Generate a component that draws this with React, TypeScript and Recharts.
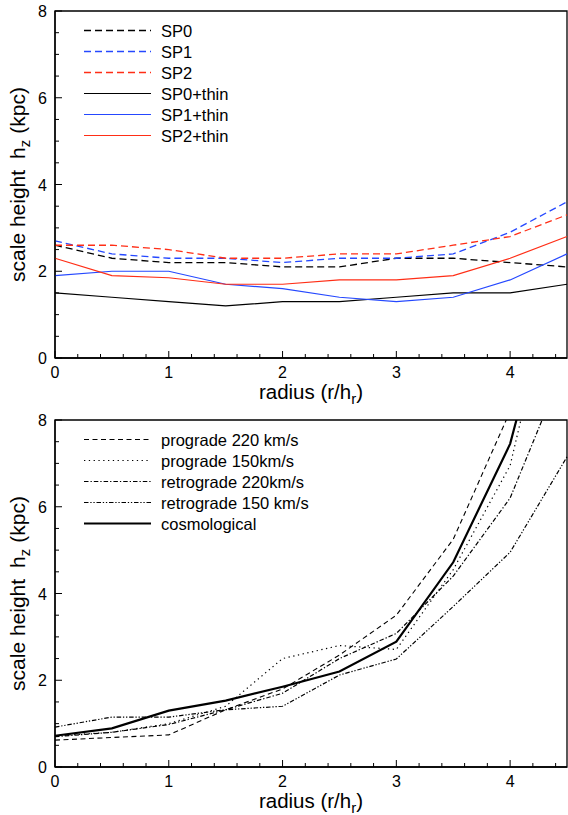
import { Label, Legend, Line, LineChart, ReferenceArea, XAxis, YAxis } from "recharts";

// radius in units of the disc scale length
const radius = [0, 0.5, 1, 1.5, 2, 2.5, 3, 3.5, 4, 4.5];

// top panel: scale height (kpc)
const sp0 = [2.6, 2.3, 2.2, 2.2, 2.1, 2.1, 2.3, 2.3, 2.2, 2.1];
const sp1 = [2.7, 2.4, 2.3, 2.3, 2.2, 2.3, 2.3, 2.4, 2.9, 3.6];
const sp2 = [2.6, 2.6, 2.5, 2.3, 2.3, 2.4, 2.4, 2.6, 2.8, 3.3];
const sp0Thin = [1.5, 1.4, 1.3, 1.2, 1.3, 1.3, 1.4, 1.5, 1.5, 1.7];
const sp1Thin = [1.9, 2.0, 2.0, 1.7, 1.6, 1.4, 1.3, 1.4, 1.8, 2.4];
const sp2Thin = [2.3, 1.9, 1.85, 1.7, 1.7, 1.8, 1.8, 1.9, 2.3, 2.8];

// bottom panel: scale height (kpc)
const pro220 = [0.62, 0.68, 0.74, 1.32, 1.8, 2.58, 3.5, 5.25, 8.2, 11];
const pro150 = [0.72, 0.8, 1.0, 1.4, 2.5, 2.8, 2.71, 4.55, 6.95, 12.5];
const retro220 = [0.7, 0.8, 0.98, 1.32, 1.7, 2.5, 3.08, 4.4, 6.2, 9.4];
const retro150 = [0.92, 1.15, 1.15, 1.32, 1.4, 2.12, 2.49, 3.7, 4.95, 7.15];
const cosmo = [0.72, 0.89, 1.3, 1.53, 1.85, 2.2, 2.89, 4.72, 7.45, 12.4];

// axis ticks
const xTicks = [0, 0.2, 0.4, 0.6, 0.8, 1, 1.2, 1.4, 1.6, 1.8, 2, 2.2, 2.4, 2.6, 2.8, 3, 3.2, 3.4, 3.6, 3.8, 4, 4.2, 4.4];
const xMajor = [0, 1, 2, 3, 4];
const yTicks = [0, 0.5, 1, 1.5, 2, 2.5, 3, 3.5, 4, 4.5, 5, 5.5, 6, 6.5, 7, 7.5, 8];
const yMajor = [0, 2, 4, 6, 8];

const FONT = "'Liberation Sans', Arial, Helvetica, sans-serif";
const BLUE = "#2548ff";
const RED = "#ff2e16";

interface Series {
  key: string;
  name: string;
  values: number[];
  color: string;
  dash?: string;
  width: number;
}

const topSeries: Series[] = [
  { key: "sp0", name: "SP0", values: sp0, color: "#000", dash: "7 4", width: 1.3 },
  { key: "sp1", name: "SP1", values: sp1, color: BLUE, dash: "7 4", width: 1.3 },
  { key: "sp2", name: "SP2", values: sp2, color: RED, dash: "7 4", width: 1.3 },
  { key: "sp0t", name: "SP0+thin", values: sp0Thin, color: "#000", width: 1.2 },
  { key: "sp1t", name: "SP1+thin", values: sp1Thin, color: BLUE, width: 1.2 },
  { key: "sp2t", name: "SP2+thin", values: sp2Thin, color: RED, width: 1.2 },
];

const bottomSeries: Series[] = [
  { key: "p220", name: "prograde 220 km/s", values: pro220, color: "#000", dash: "5 3.5", width: 1.1 },
  { key: "p150", name: "prograde 150km/s", values: pro150, color: "#000", dash: "1.3 3.5", width: 1.2 },
  { key: "r220", name: "retrograde 220km/s", values: retro220, color: "#000", dash: "4.5 2 1.3 2", width: 1.2 },
  { key: "r150", name: "retrograde 150 km/s", values: retro150, color: "#000", dash: "4.5 1.8 1.3 1.8 1.3 1.8", width: 1.2 },
  { key: "cosmo", name: "cosmological", values: cosmo, color: "#000", width: 2.2 },
];

function toRows(series: Series[]) {
  return radius.map((r, i) => {
    const row: Record<string, number> = { r };
    for (const s of series) row[s.key] = s.values[i];
    return row;
  });
}

const XTick = (props: any) => {
  const { x, y, payload } = props;
  const major = xMajor.includes(payload.value);
  return (
    <g>
      <line x1={x} x2={x} y1={y} y2={y - (major ? 7 : 4)} stroke="#000" strokeWidth={1} />
      {major && (
        <text x={x} y={y + 20} textAnchor="middle" fontSize={16} fontFamily={FONT} fill="#000">
          {payload.value}
        </text>
      )}
    </g>
  );
};

const YTick = (props: any) => {
  const { x, y, payload } = props;
  const major = yMajor.includes(payload.value);
  return (
    <g>
      <line x1={x} x2={x + (major ? 7 : 4)} y1={y} y2={y} stroke="#000" strokeWidth={1} />
      {major && (
        <text x={x - 8} y={y + 6} textAnchor="end" fontSize={16} fontFamily={FONT} fill="#000">
          {payload.value}
        </text>
      )}
    </g>
  );
};

const XTitle = (props: any) => {
  const vb = props.viewBox ?? { x: 55, y: 358, width: 512 };
  return (
    <text x={vb.x + vb.width / 2} y={vb.y + 41} textAnchor="middle" fontSize={20.5} fontFamily={FONT} fill="#000">
      radius (r/h
      <tspan fontSize={15} dy={5}>r</tspan>
      <tspan dy={-5}>)</tspan>
    </text>
  );
};

const YTitle = (props: any) => {
  const vb = props.viewBox ?? { x: 0, y: 11, width: 55, height: 347 };
  const cx = vb.x + 25;
  const cy = vb.y + vb.height / 2;
  return (
    <text
      x={cx}
      y={cy}
      transform={`rotate(-90, ${cx}, ${cy})`}
      textAnchor="middle"
      fontSize={21}
      fontFamily={FONT}
      fill="#000"
    >
      scale height
      <tspan dx={11}>h</tspan>
      <tspan fontSize={15} dy={5}>z</tspan>
      <tspan dy={-5} dx={6}>(kpc)</tspan>
    </text>
  );
};

function LegendBox({ items }: { items: Series[] }) {
  const rowH = 21;
  return (
    <svg width={240} height={items.length * rowH + 6} style={{ display: "block" }}>
      {items.map((s, i) => {
        const cy = 11.5 + i * rowH;
        return (
          <g key={s.key}>
            <line x1={0} x2={67} y1={cy} y2={cy} stroke={s.color} strokeWidth={s.width} strokeDasharray={s.dash} />
            <text x={77} y={cy + 6} fontSize={16.5} fontFamily={FONT} fill="#000">
              {s.name}
            </text>
          </g>
        );
      })}
    </svg>
  );
}

function Panel({ series, height, xAxisHeight }: { series: Series[]; height: number; xAxisHeight: number }) {
  const data = toRows(series);
  return (
    <LineChart width={568} height={height} data={data} margin={{ top: 11, right: 1, bottom: 0, left: 0 }}>
      <XAxis
        dataKey="r"
        type="number"
        domain={[0, 4.5]}
        ticks={xTicks}
        interval={0}
        tickSize={0}
        tickMargin={0}
        tickLine={false}
        tick={<XTick />}
        height={xAxisHeight}
        axisLine={{ stroke: "#000", strokeWidth: 1.3 }}
      >
        <Label content={<XTitle />} />
      </XAxis>
      <YAxis
        type="number"
        domain={[0, 8]}
        allowDataOverflow
        ticks={yTicks}
        interval={0}
        tickSize={0}
        tickMargin={0}
        tickLine={false}
        tick={<YTick />}
        width={55}
        axisLine={{ stroke: "#000", strokeWidth: 1.3 }}
      >
        <Label content={<YTitle />} />
      </YAxis>
      {series.map((s) => (
        <Line
          key={s.key}
          dataKey={s.key}
          name={s.name}
          type="linear"
          stroke={s.color}
          strokeWidth={s.width}
          strokeDasharray={s.dash}
          dot={false}
          activeDot={false}
          isAnimationActive={false}
        />
      ))}
      <ReferenceArea x1={0} x2={4.5} y1={0} y2={8} fill="none" stroke="#000" strokeWidth={1.3} />
      <Legend
        layout="horizontal"
        verticalAlign="middle"
        align="center"
        content={() => <LegendBox items={series} />}
        wrapperStyle={{ left: 84, top: 19, width: 240 }}
      />
    </LineChart>
  );
}

export default function App() {
  return (
    <div style={{ position: "absolute", left: 0, top: 0, width: 568, height: 815, background: "#fff" }}>
      <div style={{ position: "absolute", left: 0, top: 0 }}>
        <Panel series={topSeries} height={409} xAxisHeight={51} />
      </div>
      <div style={{ position: "absolute", left: 0, top: 409 }}>
        <Panel series={bottomSeries} height={406} xAxisHeight={48} />
      </div>
    </div>
  );
}
